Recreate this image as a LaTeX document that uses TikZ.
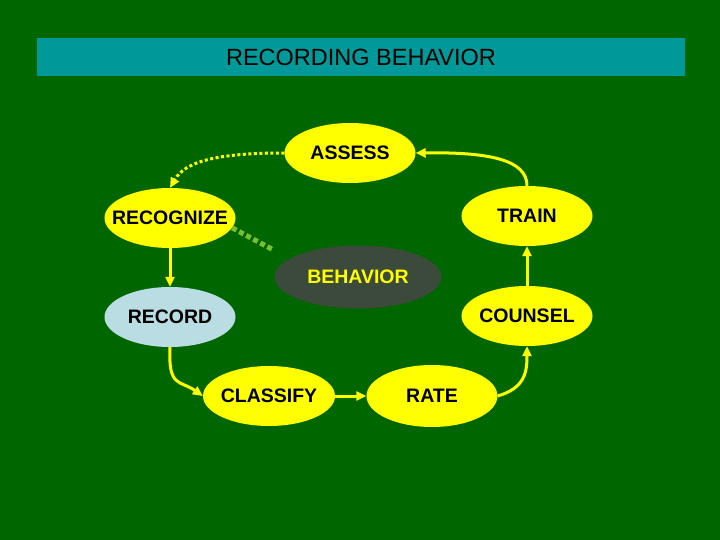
\documentclass[tikz,border=0pt]{standalone}
\usepackage{fontspec}
\setmainfont{Liberation Sans}
\usetikzlibrary{positioning, shapes.geometric, arrows.meta}

\definecolor{bggreen}{RGB}{0,102,0}
\definecolor{barteal}{RGB}{0,153,153}
\definecolor{bubyellow}{RGB}{255,255,0}
\definecolor{recblue}{RGB}{186,221,228}
\definecolor{behgrey}{RGB}{60,74,60}
\definecolor{dotgreen}{RGB}{122,190,50}

% text that does not widen its ellipse
\newcommand{\bubtext}[1]{\makebox[0pt]{#1}}

\begin{document}
\begin{tikzpicture}[
		x=1pt, y=-1pt,
		bubble/.style={ellipse, inner sep=0pt, minimum width=131pt, minimum height=60pt, fill=bubyellow, font=\fontsize{19.5}{22}\selectfont\bfseries},
		arrow/.style={line width=3pt, draw=bubyellow, -{Triangle[length=10pt,width=9pt]}},
		dotarrow/.style={arrow, dash pattern=on 3pt off 2.5pt},
		link/.style={line width=5pt, draw=dotgreen, dash pattern=on 5pt off 3pt}
		]
		
		% Background and title
		\fill[bggreen] (0,0) rectangle (720,540);
		\useasboundingbox (0,0) rectangle (720,540);
		\node[rectangle, fill=barteal, minimum width=648pt, minimum height=38pt, inner sep=0pt, font=\fontsize{23.5}{26}\selectfont] (title) at (361,57) {RECORDING BEHAVIOR};
		
		% Nodes
		\node[bubble] (assess) at (350,153) {\bubtext{ASSESS}};
		\node[bubble] (recognize) at (170,218) {\bubtext{RECOGNIZE}};
		\node[bubble] (train) at (527,216) {\bubtext{TRAIN}};
		\node[bubble, fill=behgrey, text=bubyellow, minimum width=167pt, minimum height=63pt] (behavior) at (358,277) {\bubtext{BEHAVIOR}};
		\node[bubble, fill=recblue] (record) at (170,317) {\bubtext{RECORD}};
		\node[bubble] (counsel) at (527,316) {\bubtext{COUNSEL}};
		\node[bubble, minimum width=132pt] (classify) at (269,396) {\bubtext{CLASSIFY}};
		\node[bubble, minimum height=62pt] (rate) at (432,396) {\bubtext{RATE}};
		
		% Edges
		\draw[arrow] (train.north) .. controls (527,160) and (490,152) .. (assess.east);
		\draw[dotarrow] (assess.west) .. controls (215,153) and (185,162) .. (recognize.north);
		\draw[arrow] (recognize) -- (record);
		\draw[arrow] (record.south) .. controls (168,388) and (180,380) .. (classify.west);
		\draw[arrow] (classify) -- (rate);
		\draw[arrow] (rate.east) .. controls (525,388) and (527,372) .. (counsel.south);
		\draw[arrow] (counsel) -- (train);
		\draw[link, shorten >=20pt] (recognize.-9) -- (behavior.165);
		
	\end{tikzpicture}
\end{document}
